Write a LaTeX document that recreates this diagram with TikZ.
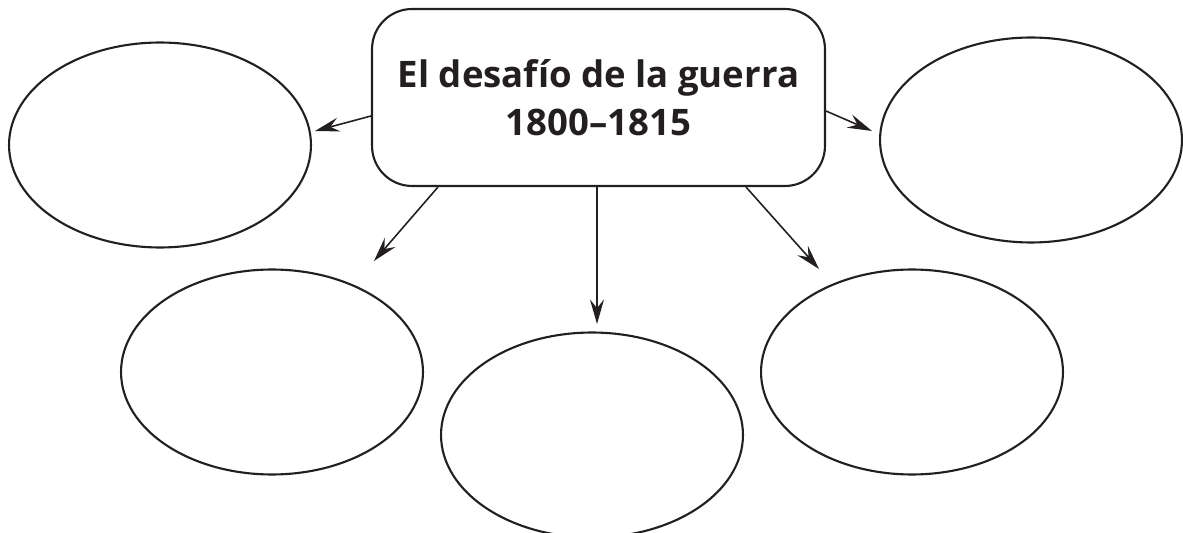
\documentclass[tikz,border=0pt]{standalone}
\usepackage{fontspec}
\setmainfont{Open Sans}
\usetikzlibrary{arrows.meta,calc,shapes.geometric}
\definecolor{ink}{HTML}{231F20}
\tikzset{
  bubble/.style={draw=ink, line width=1.2pt, ellipse, minimum width=6.04cm, minimum height=4.1cm, inner sep=0pt},
  topic/.style={draw=ink, line width=1.2pt, rounded corners=0.8cm, minimum width=9.06cm, minimum height=3.54cm, inner sep=0pt, align=center, text=ink, font=\fontsize{20.8}{25.6}\selectfont\bfseries},
  arr/.style={draw=ink, line width=0.9pt, -{Stealth[length=14pt, width=8pt, inset=5pt]}}
}
\begin{document}
\begin{tikzpicture}[x=0.02cm, y=-0.02cm]
  \useasboundingbox (0,0) rectangle (1183,533);
  \node[topic] (box) at (598.5,97.5) {El desafío de la guerra\\[2pt] 1800–1815};
  \node[bubble] (tl) at (160,145) {};
  \node[bubble] (tr) at (1031,140) {};
  \node[bubble] (ml) at (272,372) {};
  \node[bubble] (mr) at (912,372) {};
  \node[bubble] (bc) at (592,435) {};
  \path
  (315,131) coordinate (tL)
  (872,131) coordinate (tR)
  (374,261) coordinate (tML)
  (597,324) coordinate (tB)
  (819,269) coordinate (tMR)
  ;
  \draw[arr] ($(box.west)+(0,18.5)$) -- (tL);
  \draw[arr] ($(box.east)+(0,13.5)$) -- (tR);
  \draw[arr] ($(box.south west)+(67,0)$) -- (tML);
  \draw[arr] (box.south -| tB) -- (tB);
  \draw[arr] ($(box.south east)+(-80,0)$) -- (tMR);
\end{tikzpicture}
\end{document}
